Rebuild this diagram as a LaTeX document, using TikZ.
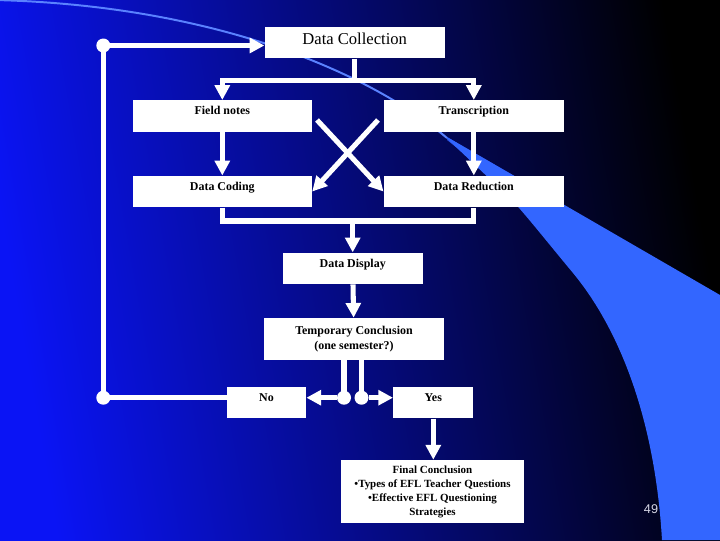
\documentclass[tikz,border=0pt]{standalone}
\usepackage{fontspec}
\setmainfont{Liberation Serif}
\setsansfont{Liberation Sans}
\usepackage{tikz}
\usetikzlibrary{arrows.meta}
\definecolor{bgleft}{RGB}{10,20,245}
\definecolor{bgmid}{RGB}{0,5,185}
\definecolor{swoosh}{RGB}{51,102,255}
\definecolor{swooshdark}{RGB}{40,75,215}
\definecolor{arcline}{RGB}{90,130,255}
\definecolor{pagenum}{RGB}{215,215,230}

\begin{document}
\begin{tikzpicture}[x=0.025cm, y=-0.025cm, box/.style={fill=white, inner sep=0pt, minimum width=4.5cm, text height=10.3pt, text depth=12.1pt, font=\fontsize{8.5}{10}\selectfont\bfseries}, tallbox/.style={fill=white, inner sep=0pt, minimum width=4.5cm, align=center, font=\fontsize{8.5}{10.4}\selectfont\bfseries}, link/.style={draw=white, line width=3.6pt}, arr/.style={link, -{Triangle[length=10.5pt, width=10.5pt]}}, dot/.style={circle, fill=white, inner sep=0pt, minimum size=0.35cm}]
  \useasboundingbox (0,0) rectangle (720,540);
  \clip (0,0) rectangle (720,540);
  \shade[left color=bgleft, middle color=bgmid, right color=black, shading angle=100] (0,0) rectangle (720,540);
  \draw[arcline, line width=1.4pt] (-5,0) .. controls (200,5) and (360,65) .. (447,138);
  \fill[swooshdark] (447,137) -- (530,185) -- (520,207) .. controls (495,180) and (470,158) .. (447,140) -- cycle;
  \fill[swoosh] (447,137) -- (720,295) -- (720,540) -- (662,540) .. controls (655,420) and (620,330) .. (573,273) .. controls (548,243) and (530,220) .. (512,200) -- (447,138.5) -- cycle;
  \node[box, text height=12.8pt, text depth=9.6pt, font=\fontsize{11.8}{14}\selectfont] (coll) at (354.7,42.5) {Data Collection};
  \node[box, minimum width=4.48cm] (field) at (222.3,116) {Field notes};
  \node[box] (trans) at (473.8,116) {Transcription};
  \node[box, minimum width=4.48cm] (coding) at (222.3,191.5) {Data Coding};
  \node[box] (reduc) at (473.8,191.5) {Data Reduction};
  \node[box, minimum width=3.5cm] (disp) at (352.7,268.4) {Data Display};
  \node[tallbox, minimum height=1.05cm] (temp) at (354,339) {Temporary Conclusion\\(one semester?)};
  \node[box, minimum width=1.98cm] (no) at (266.5,402.5) {No};
  \node[box, minimum width=2cm] (yes) at (433.3,402.5) {Yes};
  \node[tallbox, minimum width=4.57cm, minimum height=1.575cm, font=\fontsize{7.8}{10}\selectfont\bfseries] (final) at (432.5,491.5) {Final Conclusion\\•Types of EFL Teacher Questions\\•Effective EFL Questioning\\Strategies};
  \node[font=\sffamily\fontsize{9}{10}\selectfont, text=pagenum] (page) at (651,509) {49};
  \coordinate (split) at (354.7,80.5);
  \coordinate (merge) at (352.7,221);
  \coordinate (fx) at (317,120);
  \coordinate (tx) at (378,120);
  \node[dot] (nd) at (344,397.7) {};
  \node[dot] (yd) at (361.5,397.7) {};
  \node[dot] (lb) at (103.3,397.7) {};
  \node[dot] (lt) at (103.3,45.5) {};
  \draw[link] (coll.south -| split) -- (split);
  \draw[arr] (split) -| (field);
  \draw[arr] (split) -| (trans);
  \draw[arr] (field) -- (coding);
  \draw[arr] (trans) -- (reduc);
  \draw[arr] (fx) -- (reduc.west);
  \draw[arr] (tx) -- (coding.east);
  \draw[link] (coding.south) |- (merge) -| (reduc.south);
  \draw[arr] (merge) -- (disp);
  \draw[arr] (disp) -- (temp);
  \draw[link] (temp.south -| nd) -- (nd.center);
  \draw[link] (temp.south -| yd) -- (yd.center);
  \draw[arr] (nd) -- (nd -| no.east);
  \draw[arr] (yd) -- (yd -| yes.west);
  \draw[link] (lb -| no.west) -- (lb.center) -- (lt.center);
  \draw[arr] (lt.center) -- (lt -| coll.west);
  \draw[arr] (yes.south) -- (yes.south |- final.north);
\end{tikzpicture}
\end{document}
